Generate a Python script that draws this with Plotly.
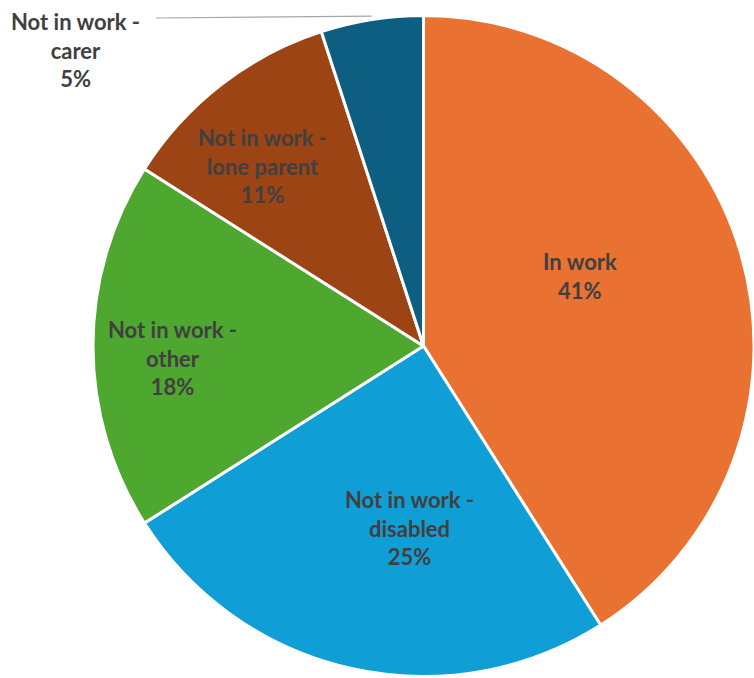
import math
import plotly.graph_objects as go

categories = ["In work", "Not in work - disabled", "Not in work - other",
              "Not in work - lone parent", "Not in work - carer"]
display_text = ["In work", "Not in work -<br>disabled", "Not in work -<br>other",
                "Not in work -<br>lone parent", "Not in work -<br>carer"]
values = [41, 25, 18, 11, 5]

colors = ["#E97132", "#0F9ED5", "#4EA72E", "#9C4414", "#0E5E82"]
# inside-label placement: fraction of radius and angular nudge (deg) from slice mid-angle
label_radius = [0.517, 0.552, 0.762, 0.73, None]
label_nudge = [-8, -8, -2.7, -4, 0]

W, H = 754, 678
CX, CY, R = 424, 346, 331  # pixel centre / radius of pie
dom_x = [(CX - R) / W, min(1.0, (CX + R) / W)]
dom_y = [(H - CY - R) / H, (H - CY + R) / H]

FONT = dict(family="Lato", size=22, color="#404040", weight="bold")

fig = go.Figure(go.Pie(
    labels=categories,
    values=values,
    textinfo="none",
    sort=False,
    direction="clockwise",
    rotation=0,
    marker=dict(colors=colors, line=dict(color="white", width=3)),
    domain=dict(x=dom_x, y=dom_y),
    showlegend=False,
    hoverinfo="label+percent",
))

total = sum(values)
cum = 0
for txt, v, rf, nd in zip(display_text, values, label_radius, label_nudge):
    mid_deg = (cum + v / 2) / total * 360
    cum += v
    if rf is None:
        # outside label with leader line to the slice edge
        mid = math.radians(mid_deg)
        px = CX + (R + 3) * math.sin(mid)
        py = CY - (R + 3) * math.cos(mid)
        fig.add_annotation(
            x=75 / W, y=1 - 50 / H, xref="paper", yref="paper",
            xanchor="center", yanchor="middle",
            text=f"{txt}<br>{v}%", showarrow=False, align="center", font=FONT,
        )
        fig.add_shape(type="line", xref="paper", yref="paper",
                      x0=156 / W, y0=1 - 18 / H, x1=px / W, y1=1 - py / H,
                      line=dict(color="#A6A6A6", width=1.2))
        continue
    a = math.radians(mid_deg + nd)
    lx = CX + rf * R * math.sin(a)
    ly = CY - rf * R * math.cos(a)
    fig.add_annotation(
        x=lx / W, y=1 - ly / H, xref="paper", yref="paper",
        xanchor="center", yanchor="middle",
        text=f"{txt}<br>{v}%", showarrow=False, align="center", font=FONT,
    )

fig.update_layout(
    width=W, height=H,
    margin=dict(l=0, r=0, t=0, b=0),
    paper_bgcolor="white",
    plot_bgcolor="white",
)

fig.write_html("out.html", config={"displayModeBar": False},
               post_script="document.body.style.margin='0';")
